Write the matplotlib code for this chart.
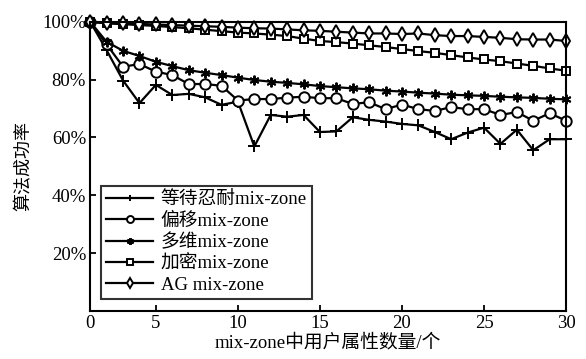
import matplotlib
matplotlib.use("Agg")
import matplotlib.pyplot as plt

plt.rcParams['font.family'] = ['Liberation Serif', 'Noto Sans CJK SC']

# attribute count (points 1..30); the first tick carries the label "0"
x = list(range(1, 31))
xtick_pos = [1, 5, 10, 15, 20, 25, 30]
xtick_labels = ['0', '5', '10', '15', '20', '25', '30']
ytick_pos = [20, 40, 60, 80, 100]
ytick_labels = ['20%', '40%', '60%', '80%', '100%']

wait_tolerate = [100, 90.2, 79.7, 71.9, 78.2, 74.7, 75.1, 73.9, 71.3, 72.4,
                 56.9, 67.8, 67.2, 67.8, 61.9, 62.1, 67.0, 66.1, 65.5, 64.7,
                 64.2, 61.9, 59.4, 61.7, 63.4, 57.8, 62.7, 55.6, 59.4, 59.4]
offset = [100, 92.2, 84.5, 85.4, 82.8, 81.6, 78.5, 78.5, 77.9, 72.8,
          73.3, 73.3, 73.8, 74.1, 73.6, 73.6, 71.6, 72.2, 69.8, 71.4,
          69.8, 69.2, 70.5, 69.8, 69.8, 67.8, 68.8, 65.8, 68.4, 65.8]
multi_dim = [100, 93.1, 90.0, 88.2, 86.2, 84.7, 83.3, 82.4, 81.6, 80.7,
             79.9, 79.3, 78.9, 78.4, 77.8, 77.4, 77.0, 76.7, 76.2, 75.9,
             75.5, 75.2, 74.8, 74.6, 74.4, 74.1, 73.9, 73.7, 73.4, 73.2]
encrypted = [100, 99.5, 99.2, 98.9, 98.6, 98.2, 97.8, 97.3, 96.8, 96.3,
             96.0, 95.6, 95.1, 94.2, 93.4, 93.0, 92.5, 91.9, 91.3, 90.6,
             89.9, 89.3, 88.5, 87.7, 87.0, 86.4, 85.6, 84.8, 83.9, 83.1]
ag = [100, 99.6, 99.5, 99.3, 99.1, 98.9, 98.7, 98.5, 98.3, 98.0,
      97.8, 97.7, 97.4, 97.1, 96.9, 96.6, 96.3, 96.0, 96.0, 95.8,
      96.0, 95.4, 95.1, 95.1, 94.8, 94.5, 94.0, 93.9, 93.9, 93.4]

names = ['等待忍耐mix-zone', '偏移mix-zone', '多维mix-zone', '加密mix-zone', 'AG mix-zone']
series = [wait_tolerate, offset, multi_dim, encrypted, ag]
markers = ['+', 'o', (6, 2, 0), 's', 'd']
msizes = [9, 7.5, 7, 6, 7.5]

fig = plt.figure(figsize=(5.86, 3.59), dpi=100)
ax = fig.add_axes([0.154, 0.134, 0.812, 0.805])

for vals, name, mk, ms in zip(series, names, markers, msizes):
    ax.plot(x, vals, color='black', lw=1.6, marker=mk, markersize=ms,
            markerfacecolor='white' if mk in ('o', 's', 'd') else 'black',
            markeredgecolor='black', markeredgewidth=1.4, label=name,
            clip_on=False)

ax.set_xlim(1, 30)
ax.set_ylim(0, 100)
ax.set_xticks(xtick_pos)
ax.set_xticklabels(xtick_labels)
ax.set_yticks(ytick_pos)
ax.set_yticklabels(ytick_labels)
ax.tick_params(direction='in', length=4, width=1.3, labelsize=13.5, pad=3)
for s in ax.spines.values():
    s.set_linewidth(1.5)

ax.set_xlabel('mix-zone中用户属性数量/个', fontsize=13.5, labelpad=1)
ax.set_ylabel('算法成功率', fontsize=13, labelpad=7)

leg = ax.legend(loc='lower left', bbox_to_anchor=(0.022, 0.04), fontsize=13.5,
                frameon=True, fancybox=False, edgecolor='black',
                handlelength=2.5, handletextpad=0.4, borderpad=0.3,
                labelspacing=0.22, borderaxespad=0)
leg.get_frame().set_linewidth(1.5)
for h in leg.legend_handles:
    h.set_markersize(5)

fig.savefig('out.png', dpi=100)
